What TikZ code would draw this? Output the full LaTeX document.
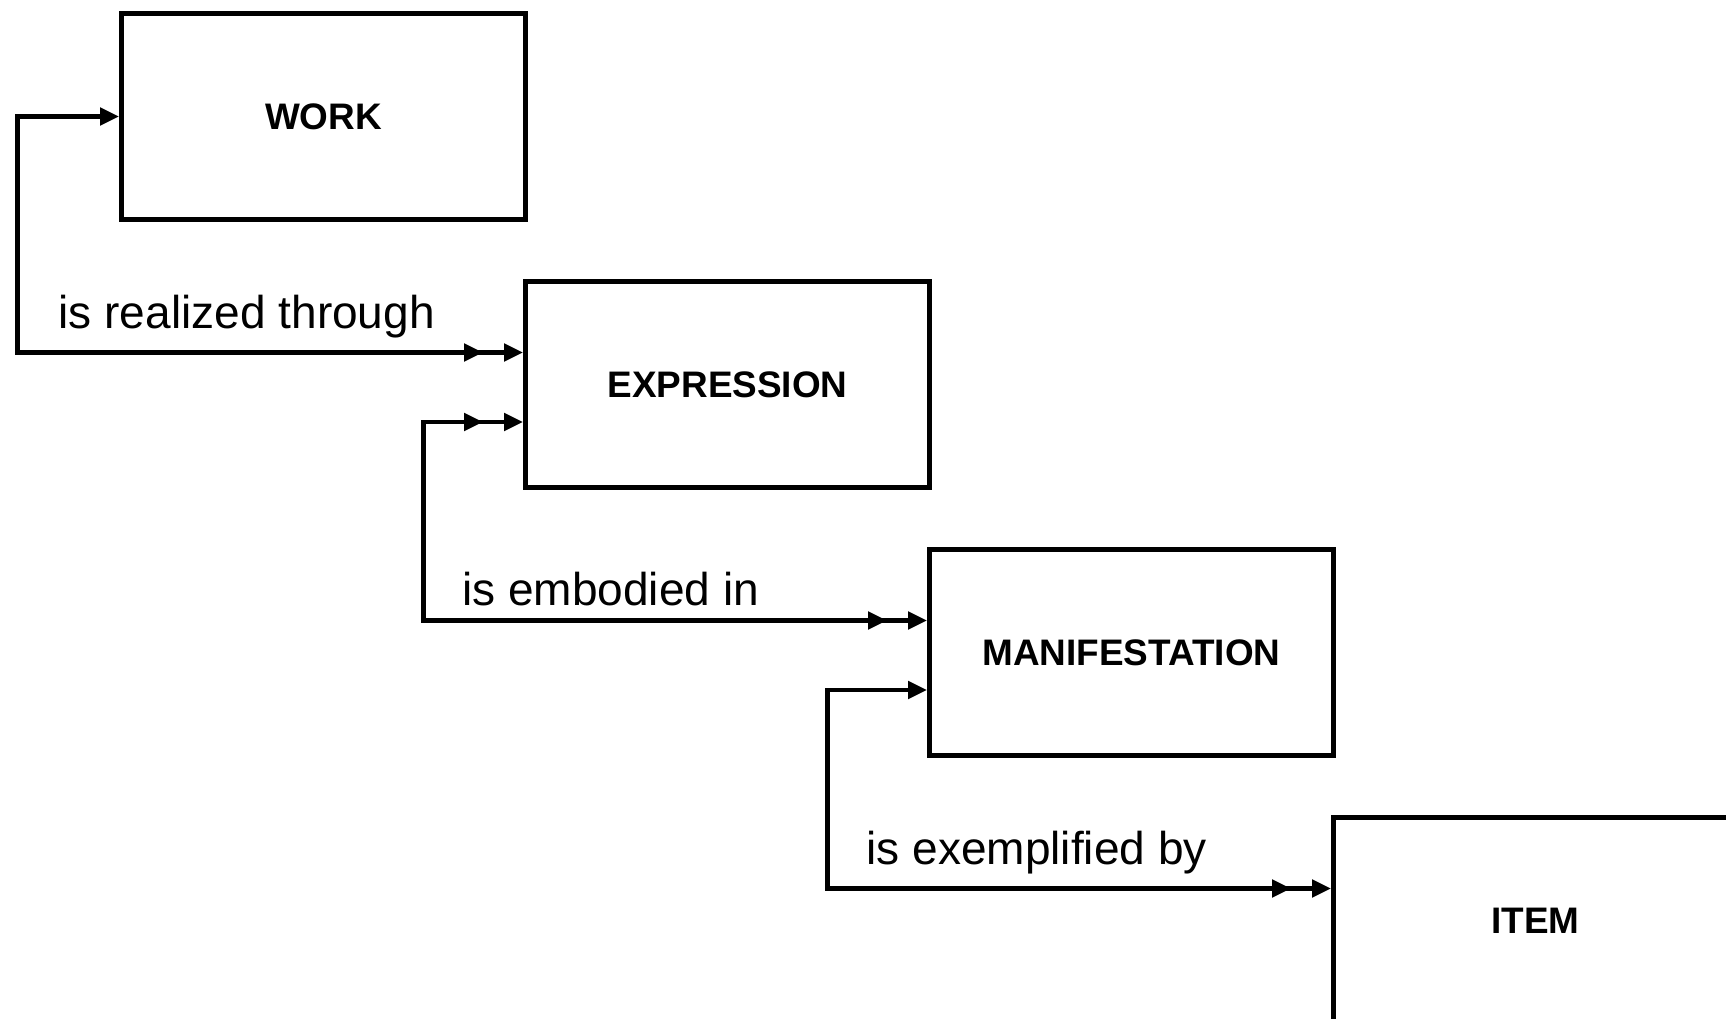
\documentclass[tikz,border=0pt]{standalone}
\usepackage{fontspec}
\setmainfont{Liberation Sans}
\usetikzlibrary{arrows.meta,decorations.markings,positioning}

\tikzset{
  entity/.style={draw, line width=1.4pt, minimum width=4.04cm, minimum height=2.06cm,
    inner sep=0pt, font=\fontsize{10.5}{12}\selectfont\bfseries},
  rel/.style={line width=1.4pt, >={Triangle[length=0.19cm,width=0.17cm]}},
  rellabel/.style={font=\fontsize{13.1}{15}\selectfont, inner sep=0pt, above=0.12cm},
  many end/.style={postaction={decorate, decoration={markings,
    mark=at position -0.4cm with {\arrow{>}}}}},
  many start/.style={postaction={decorate, decoration={markings,
    mark=at position 0.4cm with {\arrowreversed{>}}}}}
}

\begin{document}
\begin{tikzpicture}
            \useasboundingbox (0,0) rectangle (17.26,-10.19);
            \clip (0,0) rectangle (17.26,-10.19);
            \node [entity] (work) at (3.235,-1.165) {WORK};
            \node [entity] (expr) at (7.275,-3.845) {EXPRESSION};
            \node [entity] (mani) at (11.315,-6.525) {MANIFESTATION};
            \node [entity] (item) at (15.355,-9.205) {ITEM};
            \draw [rel, <->, many end] (work.west) -- ++(-1.02,0)
              |- node [rellabel, pos=0.727] (lrealized) {is realized through} ([yshift=0.32cm]expr.west);
            \draw [rel, <->, many start, many end] ([yshift=-0.375cm]expr.west) -- ++(-1,0)
              |- node [rellabel, pos=0.686] (lembodied) {is embodied in} ([yshift=0.32cm]mani.west);
            \draw [rel, <->, many end] ([yshift=-0.375cm]mani.west) -- ++(-1,0)
              |- node [rellabel, pos=0.708] (lexemplified) {is exemplified by} ([yshift=0.32cm]item.west);
\end{tikzpicture}
\end{document}
